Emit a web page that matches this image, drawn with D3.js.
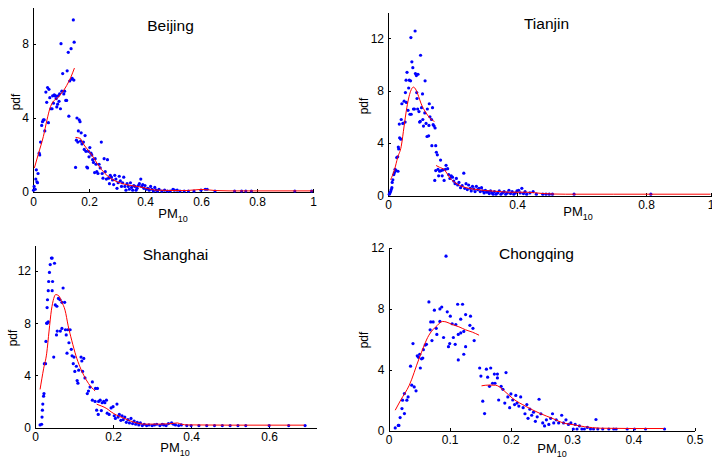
<!DOCTYPE html>
<html>
<head>
<meta charset="utf-8">
<title>PM10 pdf - four cities</title>
<style>
  body { margin: 0; background: #fff; }
  svg text { font-family: Arial, "Liberation Sans", Helvetica, sans-serif; fill: #000; }
  .axis path, .axis line { stroke: #000; shape-rendering: crispEdges; }
  .axis text { font-size: 12px; }
</style>
</head>
<body>
<div id="chart"></div>
<script src="https://cdn.jsdelivr.net/npm/d3@7"></script>
<script>
// ---- data: [PM10, pdf] ----
var bjPts = [[0.002,0.1],[0.004,0.3],[0.008,0.15],[0.010,0.7],[0.012,1.2],[0.014,0.55],[0.016,0.5],[0.018,1.0],
  [0.022,2.1],[0.024,2.0],[0.027,2.7],[0.031,3.6],[0.034,3.8],[0.037,3.9],[0.040,3.9],[0.042,3.3],[0.046,5.4],
  [0.049,4.85],[0.052,5.65],[0.055,3.75],[0.057,5.55],[0.060,5.1],[0.064,4.5],[0.068,4.5],[0.070,5.2],[0.073,4.8],
  [0.076,5.25],[0.078,5.2],[0.081,5.2],[0.083,5.05],[0.085,4.6],[0.088,4.75],[0.090,5.2],[0.093,4.9],[0.095,5.3],
  [0.098,4.5],[0.100,8.02],[0.103,5.45],[0.106,6.4],[0.110,5.3],[0.113,5.45],[0.117,4.95],[0.120,4.95],[0.122,6.55],
  [0.126,7.55],[0.128,4.1],[0.131,6.0],[0.136,7.75],[0.138,6.1],[0.140,6.15],[0.144,9.3],[0.147,8.1],[0.146,6.05],
  [0.152,1.33],[0.155,2.8],[0.157,4.0],[0.160,2.7],[0.162,3.3],[0.165,3.9],[0.168,3.8],[0.170,2.75],[0.172,3.2],
  [0.175,2.6],[0.180,2.7],[0.183,2.3],[0.186,3.05],[0.189,2.2],[0.192,1.35],[0.195,1.3],[0.198,2.2],[0.200,1.9],
  [0.203,2.4],[0.207,2.1],[0.210,2.0],[0.213,1.75],[0.216,1.6],[0.220,1.05],[0.222,1.8],[0.225,1.5],[0.228,1.1],
  [0.232,1.0],[0.236,1.5],[0.240,1.3],[0.244,2.7],[0.247,1.0],[0.250,0.75],[0.254,1.8],[0.258,1.1],[0.262,0.7],
  [0.266,1.75],[0.270,0.75],[0.273,0.45],[0.276,0.9],[0.280,0.8],[0.284,0.65],[0.288,0.4],[0.292,0.9],[0.296,0.7],
  [0.300,0.2],[0.304,0.5],[0.308,0.85],[0.312,0.6],[0.316,0.3],[0.320,0.5],[0.324,0.8],[0.328,0.3],[0.332,0.1],
  [0.336,0.45],[0.340,0.3],[0.344,0.15],[0.348,0.5],[0.352,0.25],[0.356,0.1],[0.360,0.35],[0.364,0.3],[0.368,0.1],
  [0.372,0.2],[0.376,0.35],[0.380,0.45],[0.385,0.7],[0.388,0.3],[0.392,0.4],[0.396,0.2],[0.400,0.35],[0.405,0.15],
  [0.410,0.2],[0.415,0.1],[0.420,0.3],[0.425,0.15],[0.430,0.05],[0.435,0.25],[0.440,0.1],[0.445,0.05],[0.450,0.15],
  [0.460,0.05],[0.470,0.1],[0.480,0.05],[0.490,0.05],[0.500,0.15],[0.505,0.1],[0.515,0.1],[0.525,0.05],[0.540,0.05],
  [0.555,0.05],[0.575,0.05],[0.600,0.1],[0.615,0.15],[0.622,0.15],[0.650,0.05],[0.720,0.05],[0.745,0.05],[0.760,0.05],
  [0.780,0.05],[0.935,0.05],[0.995,0.05]];
var bjFitA = [[0.005,1.3],[0.02,2.1],[0.037,3.0],[0.05,3.9],[0.06,4.5],[0.07,4.85],[0.085,5.05],[0.10,5.3],
  [0.12,5.75],[0.135,6.2],[0.148,6.7]];
var bjFitB = [[0.152,2.95],[0.168,2.9],[0.182,2.55],[0.20,2.2],[0.21,2.0],[0.233,1.45],[0.257,1.0],[0.287,0.65],
  [0.32,0.45],[0.35,0.35],[0.38,0.28],[0.40,0.22],[0.44,0.1],[0.5,0.08],[0.55,0.08],[0.6,0.14],[0.65,0.08],
  [0.7,0.06],[0.8,0.06],[1.0,0.06]];

var tjPts = [[0.004,0.1],[0.006,0.2],[0.008,0.3],[0.010,0.45],[0.012,0.6],[0.013,1.0],[0.015,1.2],[0.018,1.6],
  [0.020,1.75],[0.022,2.0],[0.025,1.9],[0.027,2.9],[0.030,2.95],[0.031,1.85],[0.032,3.7],[0.033,3.55],[0.035,5.45],
  [0.036,4.4],[0.040,4.3],[0.041,5.8],[0.043,7.0],[0.046,5.5],[0.050,7.2],[0.053,5.6],[0.054,7.85],[0.056,8.8],
  [0.057,7.1],[0.059,9.4],[0.062,6.5],[0.064,8.2],[0.066,8.8],[0.068,6.2],[0.070,8.75],[0.071,12.05],[0.072,6.2],
  [0.074,10.2],[0.077,9.75],[0.079,6.6],[0.082,6.6],[0.084,12.55],[0.085,9.3],[0.088,9.15],[0.089,7.85],[0.090,7.4],
  [0.092,6.6],[0.093,9.25],[0.096,6.4],[0.098,5.6],[0.100,5.65],[0.101,10.7],[0.104,6.7],[0.107,7.75],[0.108,5.8],
  [0.110,5.3],[0.114,6.3],[0.115,8.75],[0.118,5.5],[0.121,4.5],[0.122,6.6],[0.126,4.55],[0.127,5.35],[0.128,7.0],
  [0.130,6.0],[0.135,5.8],[0.136,3.8],[0.138,6.7],[0.140,5.4],[0.143,5.3],[0.146,5.15],[0.148,3.8],
  [0.145,1.15],[0.148,1.9],[0.150,3.3],[0.153,3.1],[0.155,2.0],[0.157,1.5],[0.160,1.85],[0.163,2.7],[0.165,1.9],
  [0.168,1.5],[0.170,1.95],[0.174,1.15],[0.178,2.0],[0.180,2.3],[0.185,2.05],[0.188,1.6],[0.192,1.3],[0.196,1.5],
  [0.200,1.4],[0.204,1.1],[0.208,0.9],[0.212,1.3],[0.216,0.8],[0.220,1.0],[0.225,0.6],[0.230,0.75],[0.235,1.7],
  [0.238,0.55],[0.242,0.9],[0.246,0.45],[0.250,0.8],[0.255,0.55],[0.258,0.35],[0.262,0.7],[0.266,0.5],[0.270,0.3],
  [0.274,0.7],[0.278,0.45],[0.282,0.55],[0.286,0.3],[0.290,0.6],[0.294,0.35],[0.298,0.2],[0.302,0.4],[0.306,0.25],
  [0.310,0.3],[0.314,0.15],[0.318,0.35],[0.322,0.2],[0.326,0.1],[0.330,0.3],[0.335,0.1],[0.340,0.2],[0.345,0.35],
  [0.350,0.1],[0.355,0.2],[0.360,0.3],[0.365,0.1],[0.370,0.2],[0.375,0.4],[0.380,0.15],[0.385,0.3],[0.390,0.1],
  [0.395,0.2],[0.400,0.35],[0.405,0.4],[0.410,0.2],[0.415,0.55],[0.420,0.15],[0.425,0.3],[0.430,0.1],[0.440,0.2],
  [0.450,0.3],[0.460,0.1],[0.480,0.1],[0.490,0.1],[0.500,0.1],[0.510,0.1],[0.577,0.1],[0.815,0.1]];
var tjFitA = [[0.008,1.2],[0.02,1.96],[0.03,2.9],[0.041,3.75],[0.05,5.3],[0.057,6.5],[0.07,7.95],[0.079,8.27],
  [0.087,8.05],[0.095,7.55],[0.102,7.05],[0.118,6.3],[0.13,5.9],[0.144,5.65]];
var tjFitB = [[0.149,2.29],[0.16,2.15],[0.175,1.96],[0.185,1.6],[0.195,1.25],[0.21,0.95],[0.226,0.73],[0.25,0.55],
  [0.27,0.47],[0.3,0.38],[0.33,0.33],[0.38,0.25],[0.43,0.25],[0.48,0.15],[0.55,0.1],[0.7,0.1],[1.0,0.1]];

var shPts = [[0.013,0.2],[0.017,0.25],[0.018,0.8],[0.019,1.33],[0.020,1.8],[0.022,2.4],[0.023,2.6],[0.024,4.9],
  [0.027,4.9],[0.028,6.6],[0.030,8.0],[0.031,8.0],[0.031,9.2],[0.032,9.8],[0.034,10.5],[0.034,8.1],[0.035,11.2],
  [0.037,11.9],[0.039,12.5],[0.042,13.0],[0.044,13.0],[0.044,10.5],[0.045,11.2],[0.048,5.4],[0.050,12.6],
  [0.052,9.4],[0.055,7.1],[0.056,9.3],[0.057,7.4],[0.060,9.9],[0.064,9.8],[0.065,7.4],[0.069,9.6],[0.069,7.6],
  [0.072,10.7],[0.076,9.6],[0.078,7.5],[0.080,7.1],[0.082,5.7],[0.084,7.5],[0.087,6.5],[0.090,7.5],[0.093,6.0],
  [0.095,5.5],[0.098,4.9],[0.100,5.4],[0.102,4.3],[0.106,4.7],[0.108,3.6],[0.110,3.4],[0.112,4.4],[0.118,5.4],
  [0.120,5.1],[0.122,4.3],[0.125,5.3],[0.128,3.8],[0.134,2.6],[0.137,2.8],[0.141,3.1],[0.147,3.5],[0.147,2.1],
  [0.154,2.0],[0.155,3.0],[0.158,1.33],[0.160,3.0],[0.162,1.0],[0.163,2.0],[0.167,2.1],[0.170,1.3],[0.172,1.9],
  [0.176,2.0],[0.179,1.9],[0.183,2.1],[0.185,1.1],[0.190,1.0],[0.195,1.5],[0.200,1.6],[0.203,0.9],[0.206,0.7],
  [0.210,1.8],[0.213,0.8],[0.216,1.0],[0.220,0.55],[0.223,0.9],[0.226,0.6],[0.230,0.8],[0.234,0.4],[0.238,0.6],
  [0.242,0.35],[0.246,0.7],[0.250,0.3],[0.254,0.5],[0.258,0.25],[0.262,0.4],[0.266,0.2],[0.270,0.35],[0.275,0.15],
  [0.280,0.25],[0.286,0.15],[0.292,0.2],[0.300,0.15],[0.306,0.2],[0.312,0.25],[0.320,0.15],[0.326,0.25],[0.330,0.2],
  [0.336,0.15],[0.342,0.3],[0.350,0.35],[0.355,0.25],[0.360,0.2],[0.368,0.15],[0.375,0.2],[0.389,0.15],[0.400,0.15],
  [0.420,0.15],[0.440,0.15],[0.460,0.15],[0.480,0.15],[0.500,0.15],[0.520,0.15],[0.540,0.15],[0.600,0.15],[0.650,0.15],
  [0.692,0.15]];
var shFitA = [[0.013,2.92],[0.022,4.5],[0.03,5.7],[0.036,7.4],[0.042,9.0],[0.048,9.9],[0.053,10.2],[0.061,10.1],
  [0.069,9.6],[0.077,9.0],[0.085,7.8],[0.094,6.7],[0.105,5.5],[0.115,4.66],[0.125,4.0],[0.137,3.38],[0.154,2.8]];
var shFitB = [[0.158,1.79],[0.17,1.65],[0.184,1.45],[0.195,1.2],[0.209,0.95],[0.225,0.75],[0.244,0.51],[0.26,0.35],
  [0.278,0.26],[0.32,0.26],[0.34,0.28],[0.355,0.32],[0.365,0.35],[0.375,0.25],[0.39,0.2],[0.5,0.18],[0.6,0.18],
  [0.69,0.18]];

var cqPts = [[0.011,0.17],[0.016,0.33],[0.017,0.33],[0.019,0.85],[0.022,1.44],[0.023,1.99],[0.026,1.11],
  [0.026,2.42],[0.030,1.99],[0.032,2.2],[0.036,4.22],[0.038,2.97],[0.040,5.7],[0.042,2.86],[0.045,2.6],[0.047,4.9],
  [0.049,4.8],[0.051,5.0],[0.052,4.1],[0.054,4.7],[0.056,4.75],[0.057,5.3],[0.060,5.6],[0.062,5.65],[0.066,8.43],
  [0.068,6.6],[0.069,7.12],[0.071,5.9],[0.073,7.12],[0.075,7.89],[0.078,6.7],[0.079,6.3],[0.084,7.97],[0.084,7.15],
  [0.087,8.1],[0.090,6.1],[0.094,11.43],[0.096,7.78],[0.098,5.5],[0.100,5.7],[0.101,7.5],[0.104,7.0],[0.106,6.1],
  [0.109,5.65],[0.110,6.95],[0.113,8.28],[0.114,4.63],[0.114,6.3],[0.118,6.4],[0.118,7.3],[0.121,8.28],[0.123,6.5],
  [0.123,5.0],[0.126,5.5],[0.126,7.6],[0.133,6.9],[0.134,7.5],[0.138,6.7],[0.140,5.9],
  [0.149,4.1],[0.151,3.57],[0.154,1.92],[0.157,1.11],[0.160,4.02],[0.162,3.5],[0.165,2.9],[0.167,4.1],[0.170,3.1],
  [0.173,3.7],[0.174,3.1],[0.178,3.7],[0.178,3.45],[0.180,2.0],[0.184,2.9],[0.187,2.7],[0.190,1.8],[0.192,3.8],
  [0.195,2.2],[0.198,1.5],[0.200,2.4],[0.203,2.0],[0.206,1.7],[0.208,2.3],[0.210,1.8],[0.213,1.6],[0.216,2.2],
  [0.220,1.5],[0.223,1.1],[0.226,1.7],[0.228,0.8],[0.231,1.4],[0.234,1.0],[0.237,1.2],[0.240,0.6],[0.243,0.9],
  [0.246,2.05],[0.249,1.1],[0.252,0.5],[0.255,0.3],[0.258,0.7],[0.262,0.4],[0.265,0.8],[0.268,1.1],[0.270,0.5],
  [0.274,0.7],[0.278,0.5],[0.283,1.0],[0.286,0.5],[0.290,0.7],[0.294,0.4],[0.298,0.5],[0.302,0.1],[0.305,0.4],
  [0.308,0.1],[0.312,0.3],[0.316,0.1],[0.320,0.1],[0.325,0.2],[0.330,0.1],[0.335,0.1],[0.339,0.72],[0.342,0.1],
  [0.350,0.1],[0.360,0.1],[0.368,0.1],[0.372,0.1],[0.390,0.1],[0.402,0.1],[0.420,0.1],[0.451,0.1]];
var cqFitA = [[0.011,1.33],[0.02,2.0],[0.034,2.97],[0.05,4.72],[0.066,6.25],[0.08,6.9],[0.088,7.15],[0.094,7.12],
  [0.104,6.95],[0.115,6.8],[0.126,6.6],[0.137,6.45],[0.148,6.25]];
var cqFitB = [[0.152,2.93],[0.164,2.98],[0.175,2.97],[0.189,2.6],[0.203,2.1],[0.225,1.57],[0.247,1.13],[0.27,0.76],
  [0.285,0.5],[0.302,0.38],[0.32,0.25],[0.347,0.15],[0.4,0.13],[0.45,0.13]];

var beijingXTicks = [0, 0.2, 0.4, 0.6, 0.8, 1];
var tianjinXTicks = [0, 0.4, 0.8, 1];
var shanghaiXTicks = [0, 0.2, 0.4, 0.6];
var chongqingXTicks = [0, 0.1, 0.2, 0.3, 0.4, 0.5];
var yTicks8 = [0, 4, 8];
var yTicks12 = [0, 4, 8, 12];

// ---- layout of the four axes (pixels) ----
var panels = [
  { title: "Beijing", pts: bjPts, fitA: bjFitA, fitB: bjFitB, xDom: [0, 1], yDom: [0, 10],
    xTicks: beijingXTicks, yTicks: yTicks8, left: 33, right: 313, top: 7, bottom: 192,
    titleX: 170.5, titleY: 30.5, labX: 173, labY: 218, pdfX: 16, pdfY: 102 },
  { title: "Tianjin", pts: tjPts, fitA: tjFitA, fitB: tjFitB, xDom: [0, 1.2], yDom: [0, 14],
    xTicks: tianjinXTicks, yTicks: yTicks12, left: 388, right: 775, top: 12, bottom: 195.5,
    titleX: 546.5, titleY: 28.5, labX: 578, labY: 216, pdfX: 364, pdfY: 106 },
  { title: "Shanghai", pts: shPts, fitA: shFitA, fitB: shFitB, xDom: [0, 0.72], yDom: [0, 14],
    xTicks: shanghaiXTicks, yTicks: yTicks12, left: 35, right: 316, top: 245, bottom: 427.5,
    titleX: 175.5, titleY: 259.5, labX: 175, labY: 451.5, pdfX: 13, pdfY: 338 },
  { title: "Chongqing", pts: cqPts, fitA: cqFitA, fitB: cqFitB, xDom: [0, 0.5], yDom: [0, 12],
    xTicks: chongqingXTicks, yTicks: yTicks12, left: 388.5, right: 694.5, top: 247.5, bottom: 430.5,
    titleX: 536.5, titleY: 258.5, labX: 552, labY: 453, pdfX: 364, pdfY: 340 }
];

var svg = d3.select("#chart").append("svg")
  .attr("width", 712)
  .attr("height", 459);

panels.forEach(function (p) {
  var x = d3.scaleLinear().domain(p.xDom).range([p.left, p.right]);
  var y = d3.scaleLinear().domain(p.yDom).range([p.bottom, p.top]);
  var g = svg.append("g");

  g.append("g")
    .attr("class", "axis")
    .attr("transform", "translate(0," + p.bottom + ")")
    .call(d3.axisBottom(x).tickValues(p.xTicks).tickSize(-3).tickSizeOuter(0).tickPadding(5)
      .tickFormat(function (d) { return String(d); }));

  g.append("g")
    .attr("class", "axis")
    .attr("transform", "translate(" + p.left + ",0)")
    .call(d3.axisLeft(y).tickValues(p.yTicks).tickSize(-3).tickSizeOuter(0).tickPadding(4)
      .tickFormat(function (d) { return String(d); }));

  g.selectAll(".axis text").attr("fill", "#000");

  var line = d3.line()
    .x(function (d) { return x(d[0]); })
    .y(function (d) { return y(d[1]); })
    .curve(d3.curveMonotoneX);

  g.append("g").selectAll("circle")
    .data(p.pts)
    .enter().append("circle")
    .attr("cx", function (d) { return x(d[0]); })
    .attr("cy", function (d) { return y(d[1]); })
    .attr("r", 1.6)
    .attr("fill", "#0000ff");

  [p.fitA, p.fitB].forEach(function (f) {
    g.append("path")
      .datum(f)
      .attr("d", line)
      .attr("fill", "none")
      .attr("stroke", "#ff0000")
      .attr("stroke-width", 1);
  });

  g.append("text")
    .attr("x", p.titleX)
    .attr("y", p.titleY)
    .attr("text-anchor", "middle")
    .style("font-size", "15.5px")
    .text(p.title);

  var lab = g.append("text")
    .attr("x", p.labX)
    .attr("y", p.labY)
    .attr("text-anchor", "middle")
    .style("font-size", "13px");
  lab.append("tspan").text("PM");
  lab.append("tspan").attr("dy", 4).style("font-size", "9px").text("10");

  g.append("text")
    .attr("transform", "translate(" + p.pdfX + "," + p.pdfY + ") rotate(-90)")
    .attr("text-anchor", "middle")
    .attr("dy", "0.35em")
    .style("font-size", "12px")
    .text("pdf");
});
</script>
</body>
</html>
